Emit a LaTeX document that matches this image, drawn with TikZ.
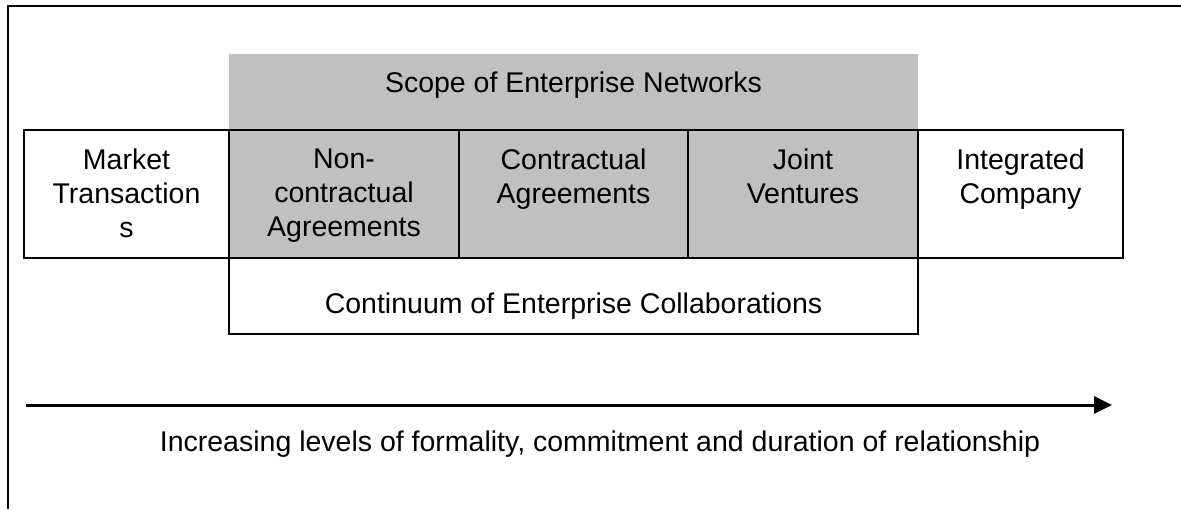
\documentclass[tikz,border=0pt]{standalone}
\usepackage{fontspec}
\setmainfont{Liberation Sans}
\usetikzlibrary{arrows.meta}
\definecolor{scopegray}{RGB}{192,192,192}

\begin{document}
\begin{tikzpicture}[x=1pt, y=-1pt,
  font=\fontsize{28.5}{34}\selectfont,
  cell/.style={draw, line width=2pt, minimum height=128pt, inner sep=0pt},
  celltext/.style={anchor=north, yshift=-20pt, align=center, inner sep=0pt},
  banner/.style={anchor=base, inner sep=0pt}]
  \useasboundingbox (0,0) rectangle (1181,509);
  \draw[line width=2.2pt] (8,509) -- (8,6) -- (1181,6);

  \fill[scopegray] (229,54) rectangle (918,130);
  \node[banner] (scope) at (573.5,92) {Scope of Enterprise Networks};

  \node[cell, minimum width=205pt] (market) at (126.5,194) {};
  \node[cell, fill=scopegray, minimum width=230pt] (noncontract) at (344,194) {};
  \node[cell, fill=scopegray, minimum width=229pt] (contract) at (573.5,194) {};
  \node[cell, fill=scopegray, minimum width=230pt] (joint) at (803,194) {};
  \node[cell, minimum width=205pt] (integrated) at (1020.5,194) {};

  \node[celltext] (markettext) at (market.north) {Market\\Transaction\\s};
  \node[celltext] (noncontracttext) at (noncontract.north) {Non-\\contractual\\Agreements};
  \node[celltext] (contracttext) at (contract.north) {Contractual\\Agreements};
  \node[celltext] (jointtext) at (joint.north) {Joint\\Ventures};
  \node[celltext] (integratedtext) at (integrated.north) {Integrated\\Company};

  \node[cell, minimum width=689pt, minimum height=76pt] (continuum) at (573.5,296) {};
  \node[banner] (continuumtext) at (573.5,313) {Continuum of Enterprise Collaborations};

  \coordinate (arrowstart) at (26,405);
  \coordinate (arrowend) at (1112,405);
  \draw[line width=3pt, -{Triangle[length=18pt, width=17pt]}] (arrowstart) -- (arrowend);
  \node[banner] (formality) at (600,451) {Increasing levels of formality, commitment and duration of relationship};
\end{tikzpicture}
\end{document}
